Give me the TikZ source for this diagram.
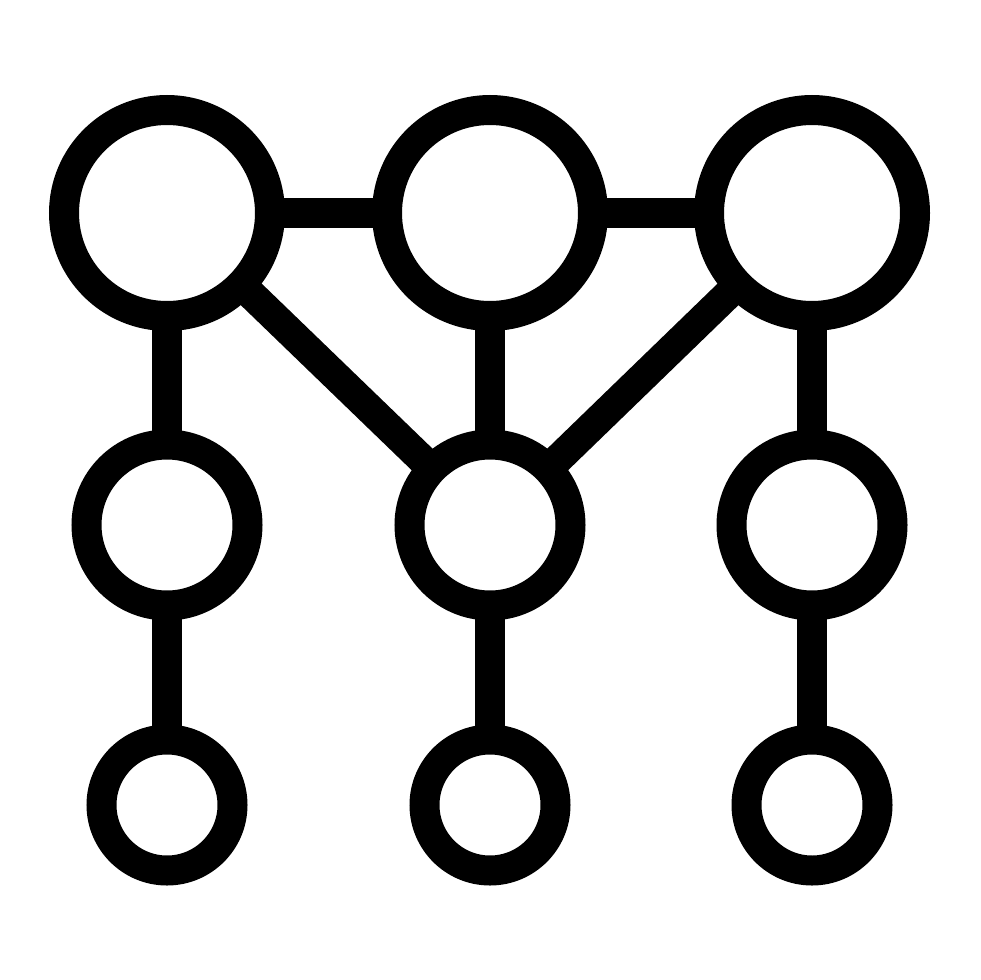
\documentclass[tikz,border=0pt]{standalone}
\begin{document}
\begin{tikzpicture}[x=1pt,y=-1pt,
  ring/.style={circle,draw=black,line width=30pt,inner sep=0pt,outer sep=0pt},
  bigring/.style={ring,minimum size=206pt},
  midring/.style={ring,minimum size=161pt},
  smallring/.style={ring,minimum size=131pt},
  link/.style={draw=black,line width=30pt}]
\useasboundingbox (0,0) rectangle (980,980);
\fill[white] (0,0) rectangle (980,980);
% rings
\node[bigring] (A1) at (167,213) {};
\node[bigring] (A2) at (490,213) {};
\node[bigring] (A3) at (812,213) {};
\node[midring] (B1) at (167,525) {};
\node[midring] (B2) at (490,525) {};
\node[midring] (B3) at (812,525) {};
\node[smallring] (C1) at (167,805) {};
\node[smallring] (C2) at (490,805) {};
\node[smallring] (C3) at (812,805) {};
% connectors
\path[link] (A1) -- (A2);
\path[link] (A2) -- (A3);
\path[link] (A1) -- (B1);
\path[link] (B1) -- (C1);
\path[link] (A2) -- (B2);
\path[link] (B2) -- (C2);
\path[link] (A3) -- (B3);
\path[link] (B3) -- (C3);
\path[link] (A1) -- (B2);
\path[link] (A3) -- (B2);
\end{tikzpicture}
\end{document}
